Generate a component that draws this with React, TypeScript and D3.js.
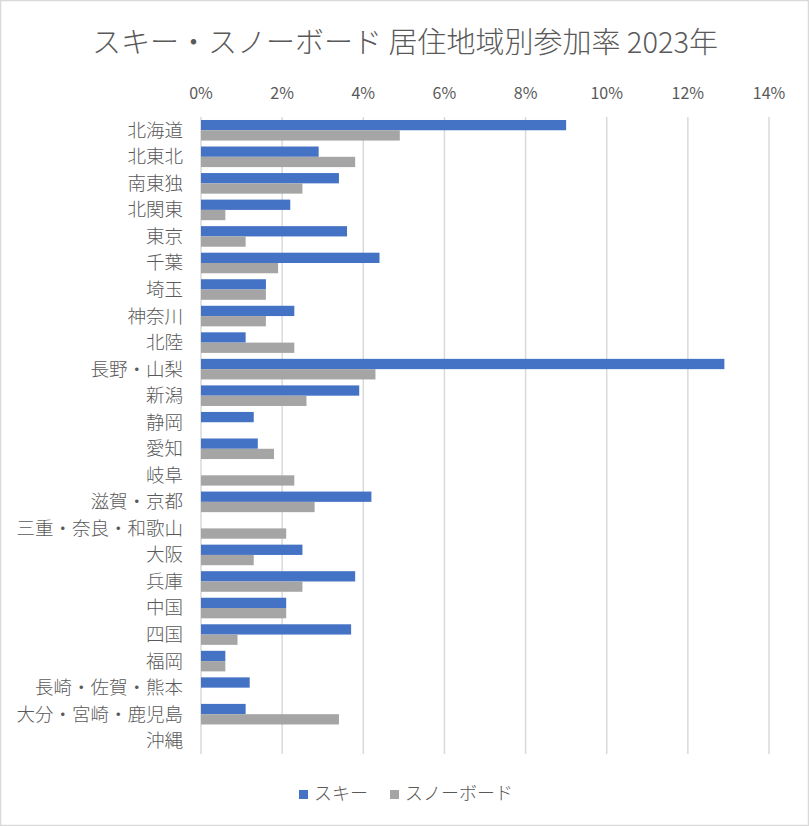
import React from "react";
import * as d3 from "d3";

const categories = [
  "北海道", "北東北", "南東独", "北関東", "東京", "千葉", "埼玉", "神奈川", "北陸",
  "長野・山梨", "新潟", "静岡", "愛知", "岐阜", "滋賀・京都", "三重・奈良・和歌山",
  "大阪", "兵庫", "中国", "四国", "福岡", "長崎・佐賀・熊本", "大分・宮崎・鹿児島", "沖縄",
];
const skiValues = [
  9.0, 2.9, 3.4, 2.2, 3.6, 4.4, 1.6, 2.3, 1.1,
  12.9, 3.9, 1.3, 1.4, 0, 4.2, 0,
  2.5, 3.8, 2.1, 3.7, 0.6, 1.2, 1.1, 0,
];
const snowboardValues = [
  4.9, 3.8, 2.5, 0.6, 1.1, 1.9, 1.6, 1.6, 2.3,
  4.3, 2.6, 0, 1.8, 2.3, 2.8, 2.1,
  1.3, 2.5, 2.1, 0.9, 0.6, 0, 3.4, 0,
];
const seriesNames = ["スキー", "スノーボード"];
const seriesColors = ["#4472C4", "#A5A5A5"];
const xTicks = [0, 2, 4, 6, 8, 10, 12, 14];
const title = "スキー・スノーボード 居住地域別参加率 2023年";

const W = 809;
const H = 826;
const FONT = "'Noto Sans CJK JP', 'Noto Sans', sans-serif";
const TEXT = "#595959";

export default function App() {
  const x = d3.scaleLinear().domain([0, 14]).range([201, 769]);
  const y = d3.scaleBand<string>().domain(categories).range([117, 754]).padding(0);
  const inner = d3
    .scaleBand<string>()
    .domain(seriesNames)
    .range([0, y.bandwidth()])
    .paddingInner(0)
    .paddingOuter(0.29);
  const series = [skiValues, snowboardValues];

  return (
    <svg width={W} height={H} style={{ display: "block", position: "absolute", left: 0, top: 0 }}>
      <rect x={0} y={0} width={W} height={H} fill="#fff" />
      <rect x={0.5} y={0.5} width={W - 1} height={H - 1} fill="none" stroke="#d9d9d9" strokeWidth={1.5} />
      <text x={405} y={53} textAnchor="middle" fontFamily={FONT} fontSize={29} fill={TEXT} fontWeight={300}>
        {title}
      </text>
      {xTicks.map((t) => (
        <g key={t}>
          <line x1={x(t)} x2={x(t)} y1={117} y2={754} stroke="#d9d9d9" strokeWidth={1.5} />
          <text x={x(t)} y={99} textAnchor="middle" fontFamily={FONT} fontSize={16} fill={TEXT}>
            {`${t}%`}
          </text>
        </g>
      ))}
      {categories.map((c, i) => (
        <g key={c}>
          {series.map((vals, s) => (
            <rect
              key={s}
              x={x(0)}
              y={(y(c) as number) + (inner(seriesNames[s]) as number)}
              width={x(vals[i]) - x(0)}
              height={inner.bandwidth()}
              fill={seriesColors[s]}
            />
          ))}
          <text
            x={183}
            y={(y(c) as number) + y.bandwidth() / 2}
            dy="0.35em"
            textAnchor="end"
            fontFamily={FONT}
            fontSize={18.5}
            fontWeight={300}
            fill={TEXT}
          >
            {c}
          </text>
        </g>
      ))}
      <g>
        <rect x={299} y={790} width={9} height={9} fill={seriesColors[0]} />
        <text x={314} y={800} fontFamily={FONT} fontSize={18} fontWeight={300} fill={TEXT}>
          {seriesNames[0]}
        </text>
        <rect x={390} y={790} width={9} height={9} fill={seriesColors[1]} />
        <text x={405} y={800} fontFamily={FONT} fontSize={18} fontWeight={300} fill={TEXT}>
          {seriesNames[1]}
        </text>
      </g>
    </svg>
  );
}
